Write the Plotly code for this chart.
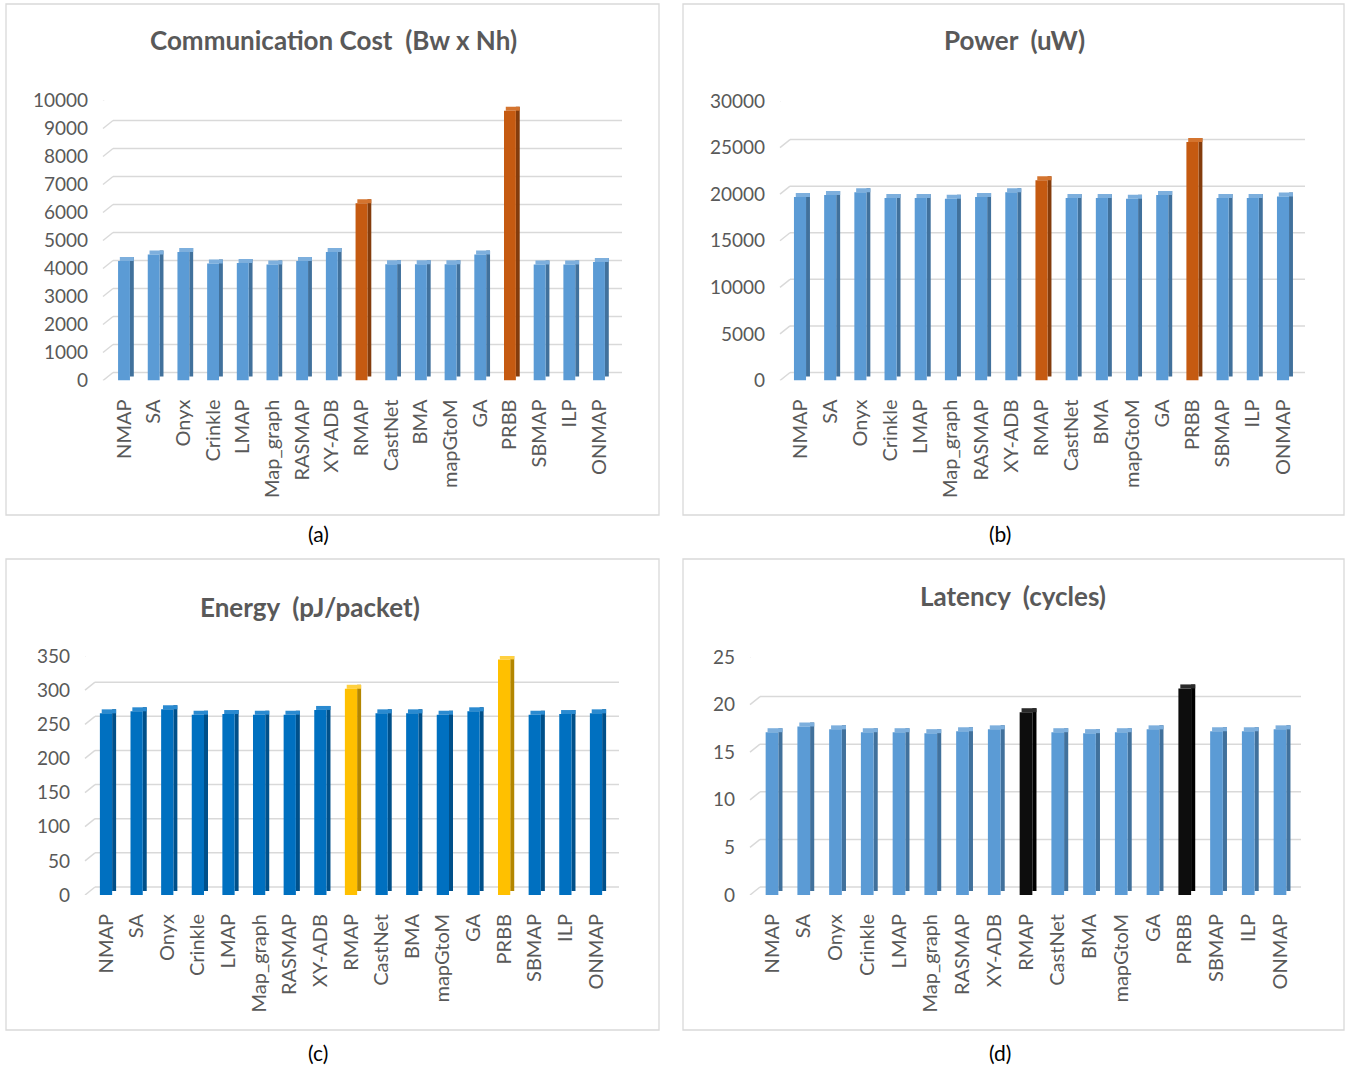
import plotly.graph_objects as go

# ---- data -------------------------------------------------------------
methods = ["NMAP", "SA", "Onyx", "Crinkle", "LMAP", "Map_graph", "RASMAP",
           "XY-ADB", "RMAP", "CastNet", "BMA", "mapGtoM", "GA", "PRBB",
           "SBMAP", "ILP", "ONMAP"]

comm_cost = [4270, 4500, 4590, 4180, 4200, 4140, 4270, 4590, 6330, 4150,
             4150, 4150, 4500, 9630, 4140, 4140, 4230]
power_uw = [19700, 19900, 20200, 19600, 19600, 19500, 19700, 20200, 21500,
            19600, 19600, 19500, 19900, 25600, 19600, 19600, 19750]
energy_pj = [266, 269, 272, 264, 265, 264, 264, 271, 302, 266, 266, 264,
             269, 345, 264, 265, 266]
latency_cyc = [17.1, 17.7, 17.4, 17.1, 17.1, 17.0, 17.2, 17.4, 19.2, 17.1,
               17.0, 17.1, 17.4, 21.7, 17.2, 17.2, 17.4]

comm_ticks = list(range(0, 10001, 1000))
power_ticks = list(range(0, 30001, 5000))
energy_ticks = list(range(0, 351, 50))
latency_ticks = list(range(0, 26, 5))

highlighted = {"RMAP", "PRBB"}

# ---- page geometry (pixels) -------------------------------------------
W, H = 1348, 1067
FONT = "Lato"
GREY_TXT = "#595959"
GRID = "#d9d9d9"


def fx(px):
    return px / W


def fy(py):
    return 1 - py / H


panels = [
    dict(name="a", title="Communication Cost\u00a0 (Bw x Nh)", vals=comm_cost,
         ticks=comm_ticks, top=10000,
         box=(6, 4, 659, 515), left=113, right=622, c0=124, c16=599,
         base_px=380.5, top_px=100.5, title_xy=(333, 40), cap_xy=(318, 533),
         colors=("#5B9BD5", "#41719C", "#7DAFDD"),
         hcolors=("#C55A11", "#843C0C", "#D4742F")),
    dict(name="b", title="Power\u00a0 (uW)", vals=power_uw,
         ticks=power_ticks, top=30000,
         box=(683, 4, 1344, 515), left=790, right=1305, c0=800, c16=1283,
         base_px=380.5, top_px=101, title_xy=(1014, 40), cap_xy=(1000, 533),
         colors=("#5B9BD5", "#41719C", "#7DAFDD"),
         hcolors=("#C55A11", "#843C0C", "#D4742F")),
    dict(name="c", title="Energy\u00a0 (pJ/packet)", vals=energy_pj,
         ticks=energy_ticks, top=350,
         box=(6, 559, 659, 1030), left=95, right=619, c0=106, c16=596,
         base_px=895, top_px=656, title_xy=(310, 607), cap_xy=(318, 1052),
         colors=("#0070C0", "#00508A", "#2A8AD0"),
         hcolors=("#FFC000", "#B38600", "#FFD040")),
    dict(name="d", title="Latency\u00a0 (cycles)", vals=latency_cyc,
         ticks=latency_ticks, top=25,
         box=(683, 559, 1344, 1030), left=760, right=1301, c0=772, c16=1280,
         base_px=895, top_px=657, title_xy=(1013, 596), cap_xy=(1000, 1052),
         colors=("#5B9BD5", "#41719C", "#7DAFDD"),
         hcolors=("#0D0D0D", "#000000", "#2A2A2A")),
]

fig = go.Figure()
shapes = []
annotations = []

FRONT_W = 0.40   # front face width (category units)
SIDE_W = 0.13    # side face width
SKEW = 0.06      # horizontal shift of the top face
DEPTH_PX = 4     # vertical depth of the 3-D faces
BACK_PX = 8      # back-wall gridline lift
DIAG_PX = 10     # width of the floor-side diagonal of each gridline

for i, p in enumerate(panels):
    sfx = "" if i == 0 else str(i + 1)
    xa, ya = "x" + sfx, "y" + sfx
    n = len(methods)
    spacing = (p["c16"] - p["c0"]) / (n - 1)
    x_lo = -(p["c0"] - p["left"]) / spacing
    x_hi = (n - 1) + (p["right"] - p["c16"]) / spacing
    unit_per_px = p["top"] / (p["base_px"] - p["top_px"])
    depth = DEPTH_PX * unit_per_px
    back = BACK_PX * unit_per_px

    front_c = [p["hcolors"][0] if m in highlighted else p["colors"][0] for m in methods]
    side_c = [p["hcolors"][1] if m in highlighted else p["colors"][1] for m in methods]
    top_c = [p["hcolors"][2] if m in highlighted else p["colors"][2] for m in methods]

    # side face
    fig.add_trace(go.Bar(x=methods, y=p["vals"], base=[depth] * n,
                         width=SIDE_W, offset=FRONT_W / 2,
                         marker=dict(color=side_c, line_width=0),
                         xaxis=xa, yaxis=ya, showlegend=False, hoverinfo="skip"))
    # top face
    fig.add_trace(go.Bar(x=methods, y=[depth] * n, base=p["vals"],
                         width=FRONT_W + SIDE_W - SKEW, offset=-FRONT_W / 2 + SKEW,
                         marker=dict(color=top_c, line_width=0),
                         xaxis=xa, yaxis=ya, showlegend=False, hoverinfo="skip"))
    # front face
    fig.add_trace(go.Bar(x=methods, y=p["vals"], width=FRONT_W,
                         offset=-FRONT_W / 2,
                         marker=dict(color=front_c, line_width=0),
                         xaxis=xa, yaxis=ya, showlegend=False,
                         name=p["title"]))

    fig.layout["xaxis" + sfx] = dict(
        domain=[fx(p["left"]), fx(p["right"])], range=[x_lo, x_hi],
        anchor=ya, tickangle=-90, showgrid=False, zeroline=False,
        showline=False, ticks="", ticklabelstandoff=14, automargin=False,
        tickfont=dict(family=FONT, size=20, color=GREY_TXT),
        categoryorder="array", categoryarray=methods, fixedrange=True)
    fig.layout["yaxis" + sfx] = dict(
        domain=[fy(p["base_px"]), fy(p["top_px"])], range=[0, p["top"]],
        anchor=xa, tickvals=p["ticks"], ticktext=[str(t) for t in p["ticks"]],
        showgrid=False, zeroline=False, showline=False, ticks="",
        ticklabelstandoff=24, automargin=False,
        tickfont=dict(family=FONT, size=19, color=GREY_TXT), fixedrange=True)

    # back-wall gridlines with their floor-side diagonals
    for t in p["ticks"]:
        shapes.append(dict(type="line", xref=xa + " domain", yref=ya,
                           x0=0, x1=1, y0=t + back, y1=t + back,
                           line=dict(color=GRID, width=1.5), layer="below"))
        shapes.append(dict(type="line", xref=xa + " domain", yref=ya,
                           xsizemode="pixel", xanchor=0, x0=-DIAG_PX, x1=0,
                           y0=t, y1=t + back,
                           line=dict(color=GRID, width=1.5), layer="below"))

    # panel frame
    x0, y0, x1, y1 = p["box"]
    shapes.append(dict(type="rect", xref="paper", yref="paper",
                       x0=fx(x0), x1=fx(x1), y0=fy(y1), y1=fy(y0),
                       line=dict(color=GRID, width=1.3), layer="below"))

    annotations.append(dict(text="<b>" + p["title"] + "</b>", xref="paper",
                            yref="paper", x=fx(p["title_xy"][0]),
                            y=fy(p["title_xy"][1]), showarrow=False,
                            xanchor="center", yanchor="middle",
                            font=dict(family=FONT, size=26, color=GREY_TXT)))
    annotations.append(dict(text="(" + p["name"] + ")", xref="paper",
                            yref="paper", x=fx(p["cap_xy"][0]),
                            y=fy(p["cap_xy"][1]), showarrow=False,
                            xanchor="center", yanchor="middle",
                            font=dict(family=FONT, size=21, color="#000000")))

fig.update_layout(
    template="none",
    width=W, height=H, margin=dict(l=0, r=0, t=0, b=0, pad=0, autoexpand=False),
    paper_bgcolor="white", plot_bgcolor="rgba(0,0,0,0)",
    barmode="overlay", shapes=shapes, annotations=annotations,
    font=dict(family=FONT, color=GREY_TXT), showlegend=False,
)

fig.write_html("out.html")
